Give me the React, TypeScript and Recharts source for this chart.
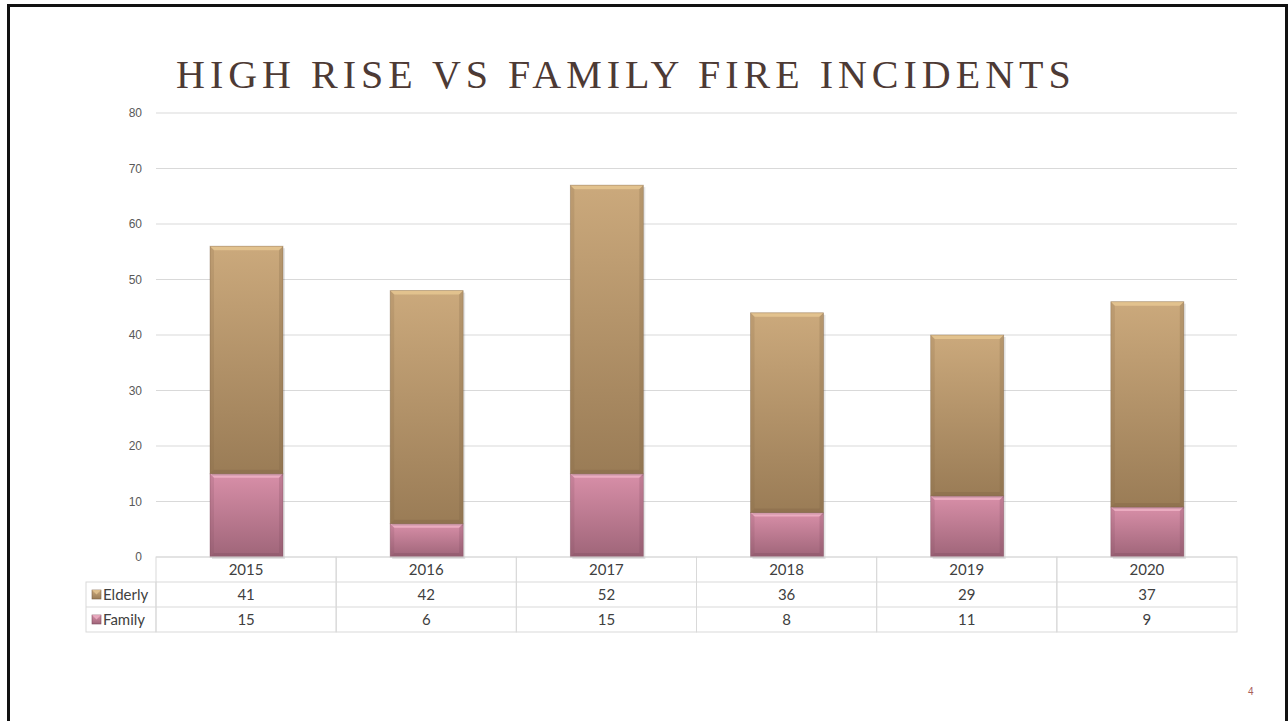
import React from 'react';
import { BarChart, Bar, XAxis, YAxis, CartesianGrid } from 'recharts';

const years = ['2015', '2016', '2017', '2018', '2019', '2020'];
const elderly = [41, 42, 52, 36, 29, 37];
const family = [15, 6, 15, 8, 11, 9];
const yTicks = [0, 10, 20, 30, 40, 50, 60, 70, 80];
const seriesNames = ['Elderly', 'Family'];
const titleText = 'HIGH RISE VS FAMILY FIRE INCIDENTS';
const pageNumber = '4';

const data = years.map((y, i) => ({ year: y, Family: family[i], Elderly: elderly[i] }));

const W = 1288;
const H = 721;
const PLOT_LEFT = 156;
const PLOT_RIGHT = 1237;
const PLOT_TOP = 113;
const PLOT_BOTTOM = 557;
const Y_AXIS_W = 60;
const X_AXIS_H = 80;
const ROW_H = 25;
const HEADER_LEFT = 86;
const LINE = '#d9d9d9';
const TEXT = '#404040';
const TABLE_FONT = 'Lato, "Open Sans", sans-serif';

const palette = {
  Elderly: { top: '#cba97c', bottom: '#9a7c56', light: '#e6c792', dark: '#7d6245', id: 'gElderly' },
  Family: { top: '#d88fa8', bottom: '#9f6579', light: '#efb2c6', dark: '#7e4c5e', id: 'gFamily' },
};

const BevelBar = (props: any) => {
  const { x, y, width, height, pal } = props;
  if (!height || height <= 0) return null;
  const b = Math.min(4, height / 2);
  return (
    <g>
      <rect x={x + 2} y={y + 2} width={width} height={height} fill="rgba(0,0,0,0.10)" />
      <rect x={x} y={y} width={width} height={height} fill={`url(#${pal.id})`} />
      <polygon
        points={`${x},${y} ${x + width},${y} ${x + width - b},${y + b} ${x + b},${y + b}`}
        fill={pal.light}
        opacity={0.85}
      />
      <polygon
        points={`${x},${y} ${x + b},${y + b} ${x + b},${y + height - b} ${x},${y + height}`}
        fill={pal.dark}
        opacity={0.18}
      />
      <polygon
        points={`${x + width},${y} ${x + width - b},${y + b} ${x + width - b},${y + height - b} ${x + width},${y + height}`}
        fill={pal.dark}
        opacity={0.25}
      />
      <polygon
        points={`${x},${y + height} ${x + b},${y + height - b} ${x + width - b},${y + height - b} ${x + width},${y + height}`}
        fill={pal.dark}
        opacity={0.35}
      />
      <rect x={x} y={y} width={width} height={height} fill="none" stroke={pal.dark} strokeOpacity={0.45} strokeWidth={0.8} />
    </g>
  );
};

const LegendKey = ({ x, y, pal }: any) => {
  const s = 9;
  return (
    <g>
      <rect x={x} y={y} width={s} height={s} fill={`url(#${pal.id})`} stroke={pal.dark} strokeWidth={0.6} />
      <polygon points={`${x},${y} ${x + s},${y} ${x + s / 2},${y + s / 2}`} fill={pal.light} opacity={0.8} />
    </g>
  );
};

const TableTick = (props: any) => {
  const { x, y, payload } = props;
  const cw = (PLOT_RIGHT - PLOT_LEFT) / years.length;
  const i = years.indexOf(payload.value);
  const left = x - cw / 2;
  const rows = [elderly, family];
  return (
    <g>
      <rect x={left} y={y} width={cw} height={ROW_H * 3} fill="none" stroke={LINE} />
      <line x1={left} x2={left + cw} y1={y + ROW_H} y2={y + ROW_H} stroke={LINE} />
      <line x1={left} x2={left + cw} y1={y + 2 * ROW_H} y2={y + 2 * ROW_H} stroke={LINE} />
      <text x={x} y={y + 18} textAnchor="middle" fontSize={15} fill={TEXT} fontFamily={TABLE_FONT}>
        {payload.value}
      </text>
      {rows.map((r, k) => (
        <text key={k} x={x} y={y + ROW_H * (k + 1) + 18} textAnchor="middle" fontSize={15} fill={TEXT} fontFamily={TABLE_FONT}>
          {r[i]}
        </text>
      ))}
      {i === 0 && (
        <g>
          <rect x={HEADER_LEFT} y={y + ROW_H} width={left - HEADER_LEFT} height={ROW_H * 2} fill="none" stroke={LINE} />
          <line x1={HEADER_LEFT} x2={left} y1={y + 2 * ROW_H} y2={y + 2 * ROW_H} stroke={LINE} />
          {seriesNames.map((n, k) => (
            <g key={n}>
              <LegendKey x={HEADER_LEFT + 6} y={y + ROW_H * (k + 1) + 8} pal={(palette as any)[n]} />
              <text x={HEADER_LEFT + 17} y={y + ROW_H * (k + 1) + 18} fontSize={15} fill={TEXT} fontFamily={TABLE_FONT}>
                {n}
              </text>
            </g>
          ))}
        </g>
      )}
    </g>
  );
};

export default function App() {
  return (
    <div style={{ position: 'absolute', left: 0, top: 0, width: W, height: H, overflow: 'hidden', background: '#fff' }}>
      <div
        style={{
          position: 'absolute',
          left: 7,
          top: 4,
          width: W - 7 - 6,
          height: 760,
          border: '3px solid #111',
          boxSizing: 'content-box',
        }}
      />
      <svg style={{ position: 'absolute', left: 0, top: 0 }} width={W} height={130}>
        <text x={176} y={88} fontSize={40} fill="#4d3a35" fontFamily='"Liberation Serif", "DejaVu Serif", serif' letterSpacing={5}>
          {titleText}
        </text>
      </svg>
      <div style={{ position: 'absolute', left: 0, top: 0 }}>
        <BarChart
          width={W}
          height={H}
          data={data}
          margin={{ left: PLOT_LEFT - Y_AXIS_W, right: W - PLOT_RIGHT, top: PLOT_TOP, bottom: H - PLOT_BOTTOM - X_AXIS_H }}
          barSize={73}
        >
          <defs>
            {Object.values(palette).map((p) => (
              <linearGradient key={p.id} id={p.id} x1="0" y1="0" x2="0" y2="1">
                <stop offset="0%" stopColor={p.top} />
                <stop offset="100%" stopColor={p.bottom} />
              </linearGradient>
            ))}
          </defs>
          <CartesianGrid vertical={false} stroke={LINE} />
          <YAxis
            width={Y_AXIS_W}
            domain={[0, 80]}
            ticks={yTicks}
            axisLine={false}
            tickLine={false}
            tickSize={0}
            tickMargin={14}
            tick={{ fontSize: 12, fill: '#595959', fontFamily: '"Liberation Sans", Arial, sans-serif' }}
          />
          <XAxis
            dataKey="year"
            height={X_AXIS_H}
            axisLine={false}
            tickLine={false}
            tickSize={0}
            tickMargin={0}
            interval={0}
            tick={<TableTick />}
          />
          <Bar dataKey="Family" stackId="a" isAnimationActive={false} shape={(p: any) => <BevelBar {...p} pal={palette.Family} />} />
          <Bar dataKey="Elderly" stackId="a" isAnimationActive={false} shape={(p: any) => <BevelBar {...p} pal={palette.Elderly} />} />
        </BarChart>
      </div>
      <div
        style={{
          position: 'absolute',
          left: 1248,
          top: 686,
          fontSize: 10,
          color: '#a8605a',
          fontFamily: '"Liberation Sans", Arial, sans-serif',
        }}
      >
        {pageNumber}
      </div>
    </div>
  );
}
